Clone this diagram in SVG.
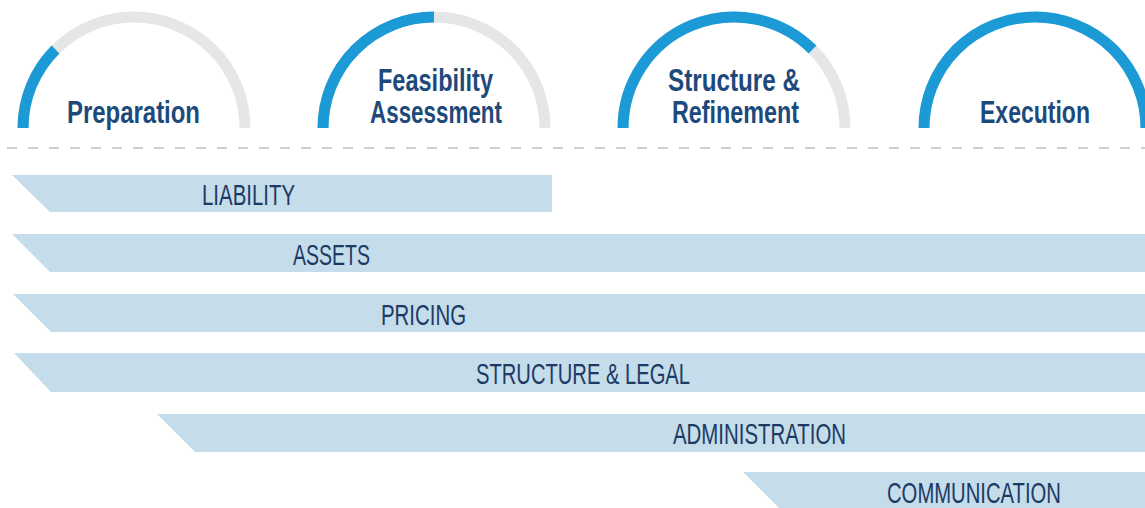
<svg xmlns="http://www.w3.org/2000/svg" width="1145" height="508" viewBox="0 0 1145 508">
<style>
.trk{fill:none;stroke:#e5e6e8;stroke-width:11}
.prg{fill:none;stroke:#1b9ad6;stroke-width:11}
.lbl{font-family:"Liberation Sans Narrow","Liberation Sans",Arial,sans-serif;font-weight:bold;font-size:31px;fill:#1d4a7b;text-anchor:start}
.bar{fill:#c5dcea}
.btx{font-family:"Liberation Sans Narrow","Liberation Sans",Arial,sans-serif;font-size:29.5px;fill:#1c3a63}
.dash{stroke:#cfcfd1;stroke-width:2;stroke-dasharray:10 11;fill:none}
</style>
<rect width="1145" height="508" fill="#ffffff"/>
<g id="phase-preparation">
<path class="trk" d="M23 128 A111 111 0 0 1 245 128"/>
<path class="prg" d="M23 128 A111 111 0 0 1 55.5 49.5"/>
<text class="lbl" x="67" y="123" textLength="133" lengthAdjust="spacingAndGlyphs">Preparation</text>
</g>
<g id="phase-feasibility">
<path class="trk" d="M323 128 A111 111 0 0 1 545 128"/>
<path class="prg" d="M323 128 A111 111 0 0 1 434 17"/>
<text class="lbl" x="378" y="91" textLength="115" lengthAdjust="spacingAndGlyphs">Feasibility</text>
<text class="lbl" x="370" y="123" textLength="132" lengthAdjust="spacingAndGlyphs">Assessment</text>
</g>
<g id="phase-structure">
<path class="trk" d="M623 128 A111 111 0 0 1 845 128"/>
<path class="prg" d="M623 128 A111 111 0 0 1 812.5 49.5"/>
<text class="lbl" x="668" y="91" textLength="132" lengthAdjust="spacingAndGlyphs">Structure &amp;</text>
<text class="lbl" x="672" y="123" textLength="127" lengthAdjust="spacingAndGlyphs">Refinement</text>
</g>
<g id="phase-execution">
<path class="prg" d="M924 128 A111 111 0 0 1 1146 128"/>
<text class="lbl" x="980" y="123" textLength="110" lengthAdjust="spacingAndGlyphs">Execution</text>
</g>
<g id="connectors">
<line class="dash" x1="7" y1="148" x2="1145" y2="148"/>
</g>
<g id="bar-liability">
<polygon class="bar" points="12,175 552,175 552,212 50,212"/>
<text class="btx" x="202" y="205" textLength="93" lengthAdjust="spacingAndGlyphs">LIABILITY</text>
</g>
<g id="bar-assets">
<polygon class="bar" points="12,234 1145,234 1145,272 50,272"/>
<text class="btx" x="293" y="265" textLength="77" lengthAdjust="spacingAndGlyphs">ASSETS</text>
</g>
<g id="bar-pricing">
<polygon class="bar" points="13,294 1145,294 1145,332 51,332"/>
<text class="btx" x="381" y="325" textLength="85" lengthAdjust="spacingAndGlyphs">PRICING</text>
</g>
<g id="bar-structure-legal">
<polygon class="bar" points="14,353 1145,353 1145,392 51,392"/>
<text class="btx" x="476" y="384" textLength="214" lengthAdjust="spacingAndGlyphs">STRUCTURE &amp; LEGAL</text>
</g>
<g id="bar-administration">
<polygon class="bar" points="157,414 1145,414 1145,452 195,452"/>
<text class="btx" x="673" y="444" textLength="173" lengthAdjust="spacingAndGlyphs">ADMINISTRATION</text>
</g>
<g id="bar-communication">
<polygon class="bar" points="743,472 1145,472 1145,510 781,510"/>
<text class="btx" x="887" y="503" textLength="174" lengthAdjust="spacingAndGlyphs">COMMUNICATION</text>
</g>
</svg>
